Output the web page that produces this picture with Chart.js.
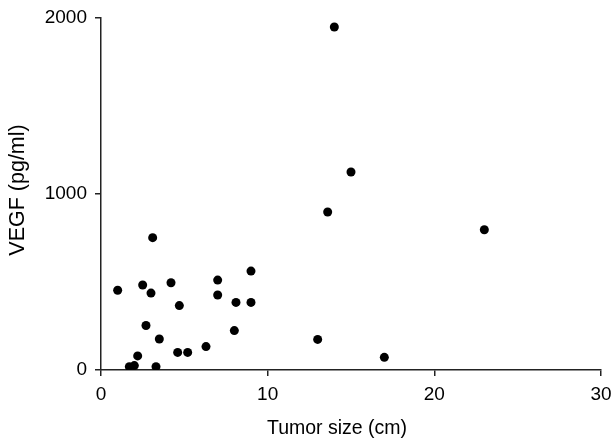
<!DOCTYPE html>
<html>
<head>
<meta charset="utf-8">
<script src="https://cdn.jsdelivr.net/npm/chart.js@4/dist/chart.umd.min.js"></script>
<style>
  html, body { margin: 0; padding: 0; background: #fff; }
  #wrap { width: 616px; height: 441px; }
</style>
</head>
<body>
<div id="wrap"><canvas id="scatterChart"></canvas></div>
<script>
// Tumor size (cm) vs VEGF (pg/ml)
const tumorSize = [1.0, 1.7, 2.0, 2.2, 2.5, 2.7, 3.0, 3.1, 3.3, 3.5, 4.2, 4.6, 4.7, 5.2, 6.3, 7.0, 7.0, 8.0, 8.1, 9.0, 9.0, 13.0, 13.6, 14.0, 15.0, 17.0, 23.0];
const vegf = [453, 19, 25, 80, 483, 253, 437, 752, 19, 176, 496, 100, 366, 100, 133, 511, 426, 224, 384, 562, 384, 174, 898, 1949, 1125, 72, 797];
const xTicks = [0, 10, 20, 30];
const yTicks = [0, 1000, 2000];
const xTitle = "Tumor size (cm)";
const yTitle = "VEGF (pg/ml)";

const points = tumorSize.map((x, i) => ({ x: x, y: vegf[i] }));
const axisColor = "#222";
const family = "'Liberation Sans', Arial, sans-serif";
const tickFont = { family: family, size: 19 };

// axis titles drawn by hand so they sit where the original has them
const axisTitles = {
  id: "axisTitles",
  afterDraw(chart) {
    const c = chart.ctx;
    const area = chart.chartArea;
    c.save();
    c.fillStyle = "#000";
    c.textAlign = "center";
    c.textBaseline = "alphabetic";
    c.font = "19.5px " + family;
    c.fillText(xTitle, area.left + (area.right - area.left) / 2 - 14, 434);
    c.translate(24, 190);
    c.rotate(-Math.PI / 2);
    c.font = "21.5px " + family;
    c.fillText(yTitle, 0, 0);
    c.restore();
  },
};

const ctx = document.getElementById("scatterChart").getContext("2d");
new Chart(ctx, {
  type: "scatter",
  data: {
    datasets: [
      {
        data: points,
        backgroundColor: "#000",
        borderWidth: 0,
        pointRadius: 4.5,
        pointHoverRadius: 4.5,
      },
    ],
  },
  options: {
    responsive: true,
    maintainAspectRatio: false,
    animation: false,
    layout: { padding: { top: 18, right: 15, left: 0, bottom: 0 } },
    plugins: {
      legend: { display: false },
      tooltip: { enabled: false },
    },
    scales: {
      x: {
        type: "linear",
        min: 0,
        max: 30,
        afterBuildTicks: (scale) => {
          scale.ticks = xTicks.map((v) => ({ value: v }));
        },
        afterFit: (scale) => {
          scale.height = 71;
          scale.paddingLeft = 0;
          scale.paddingRight = 0;
        },
        border: { color: axisColor, width: 1.5 },
        grid: { drawOnChartArea: false, drawTicks: true, tickLength: 6, color: axisColor, lineWidth: 1.5 },
        ticks: { color: "#000", font: tickFont, padding: 7, maxRotation: 0, callback: (v) => String(v) },
      },
      y: {
        type: "linear",
        min: 0,
        max: 2000,
        afterBuildTicks: (scale) => {
          scale.ticks = yTicks.map((v) => ({ value: v }));
        },
        afterFit: (scale) => {
          scale.width = 101;
          scale.paddingTop = 0;
          scale.paddingBottom = 0;
        },
        border: { color: axisColor, width: 1.5 },
        grid: { drawOnChartArea: false, drawTicks: true, tickLength: 6, color: axisColor, lineWidth: 1.5 },
        ticks: { color: "#000", font: tickFont, padding: 8, callback: (v) => String(v) },
      },
    },
  },
  plugins: [axisTitles],
});
</script>
</body>
</html>
